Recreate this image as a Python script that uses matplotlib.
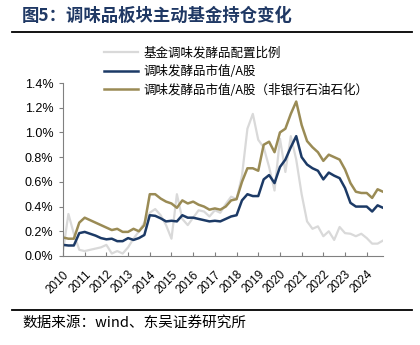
import matplotlib
matplotlib.use("Agg")
import matplotlib.pyplot as plt
from matplotlib.lines import Line2D
from matplotlib.ticker import FuncFormatter

plt.rcParams["font.family"] = ["Liberation Sans", "Noto Sans CJK SC", "DejaVu Sans"]
CJK = ["Noto Sans CJK SC", "DejaVu Sans"]

# 季度数据：2010Q1 - 2024Q4（%）
years = list(range(2010, 2025))
fund_weight = [
    0.04, 0.34, 0.18, 0.05, 0.04, 0.05, 0.06, 0.07, 0.09, 0.02, 0.04, 0.02,
    0.07, 0.14, 0.20, 0.27, 0.35, 0.38, 0.33, 0.25, 0.14, 0.50, 0.30, 0.25,
    0.31, 0.37, 0.36, 0.32, 0.37, 0.35, 0.42, 0.48, 0.46, 0.65, 1.03, 1.15,
    0.94, 0.88, 0.72, 0.53, 0.95, 0.68, 0.97, 0.78, 0.50, 0.28, 0.22, 0.24,
    0.16, 0.20, 0.13, 0.235, 0.185, 0.18, 0.16, 0.18, 0.145, 0.10, 0.10, 0.125,
]
mv_share = [
    0.09, 0.085, 0.085, 0.185, 0.195, 0.18, 0.165, 0.145, 0.135, 0.14, 0.12, 0.12,
    0.145, 0.13, 0.145, 0.17, 0.33, 0.325, 0.305, 0.28, 0.285, 0.28, 0.33, 0.31,
    0.31, 0.30, 0.29, 0.28, 0.285, 0.28, 0.30, 0.32, 0.33, 0.45, 0.50, 0.485,
    0.485, 0.62, 0.655, 0.59, 0.72, 0.78, 0.88, 0.97, 0.80, 0.74, 0.71, 0.69,
    0.62, 0.675, 0.65, 0.63, 0.55, 0.43, 0.40, 0.40, 0.40, 0.36, 0.41, 0.39,
]
mv_share_ex = [
    0.15, 0.14, 0.14, 0.27, 0.31, 0.29, 0.27, 0.25, 0.23, 0.21, 0.22, 0.195,
    0.195, 0.22, 0.20, 0.25, 0.50, 0.50, 0.465, 0.44, 0.425, 0.39, 0.45, 0.425,
    0.44, 0.415, 0.40, 0.375, 0.385, 0.375, 0.40, 0.45, 0.46, 0.60, 0.71, 0.71,
    0.69, 0.90, 0.925, 0.84, 1.00, 1.03, 1.15, 1.25, 1.06, 0.93, 0.88, 0.84,
    0.77, 0.82, 0.80, 0.78, 0.70, 0.59, 0.52, 0.51, 0.51, 0.47, 0.54, 0.52,
]
labels = ["基金调味发酵品配置比例", "调味发酵品市值/A股", "调味发酵品市值/A股（非银行石油石化）"]

fig = plt.figure(figsize=(4.2, 3.45), dpi=100)
ax = fig.add_axes([63 / 420, 89 / 345, 320 / 420, 173 / 345])

x = range(len(mv_share))
ax.plot(x, fund_weight, color="#d9d9d9", lw=1.6, label=labels[0])
ax.plot(x, mv_share, color="#1c3a66", lw=1.8, label=labels[1])
ax.plot(x, mv_share_ex, color="#9a8b55", lw=1.8, label=labels[2])

ax.set_xlim(0, len(mv_share) - 1)
ax.set_ylim(0, 1.4)
ax.set_yticks([0, 0.2, 0.4, 0.6, 0.8, 1.0, 1.2, 1.4])
ax.yaxis.set_major_formatter(FuncFormatter(lambda v, _: f"{v:.1f}%"))
ax.set_xticks([4 * i for i in range(len(years))])
ax.set_xticklabels([str(y) for y in years], rotation=45, ha="right", rotation_mode="anchor")
ax.tick_params(axis="y", direction="out", length=3, color="#808080", labelsize=9, pad=4)
ax.tick_params(axis="x", direction="in", length=3, color="#808080", labelsize=8.5, pad=9)
for s in ["top", "right"]:
    ax.spines[s].set_visible(False)
for s in ["left", "bottom"]:
    ax.spines[s].set_color("#808080")
    ax.spines[s].set_linewidth(0.8)

leg = fig.legend(loc="upper left", bbox_to_anchor=(93 / 420, 1 - 35 / 345), frameon=False,
                 handlelength=2.7, handletextpad=0.4, labelspacing=0.45,
                 prop={"family": CJK, "size": 9})

fig.text(22 / 420, 1 - 16 / 345, "图5：调味品板块主动基金持仓变化", family=CJK, fontsize=12.5,
         fontweight="bold", color="#1f3864", va="center", ha="left")
fig.add_artist(Line2D([12 / 420, 412 / 420], [1 - 32 / 345] * 2, color="black", lw=1.3))
fig.add_artist(Line2D([12 / 420, 412 / 420], [1 - 310 / 345] * 2, color="black", lw=1.3))
fig.text(22 / 420, 1 - 323 / 345, "数据来源：wind、东吴证券研究所", family=CJK, fontsize=10.5,
         color="black", va="center", ha="left")

fig.savefig("out.png", dpi=100)
